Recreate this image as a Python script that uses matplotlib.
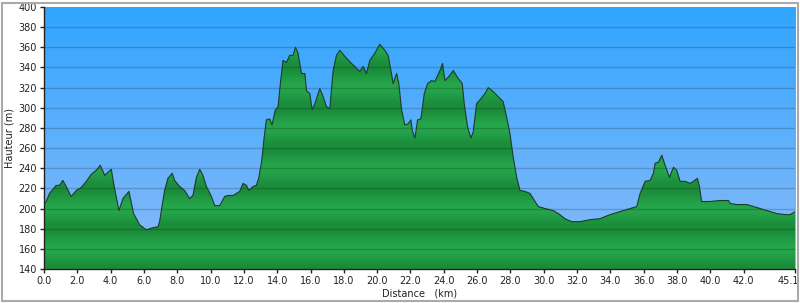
import numpy as np
import matplotlib
matplotlib.use("Agg")
from matplotlib import pyplot as plt
from matplotlib.patches import Rectangle
from matplotlib.transforms import ScaledTranslation

# elevation profile (km, m)
dist_km = [0.0, 0.13, 0.33, 0.73, 0.93, 1.13, 1.33, 1.63, 1.94, 2.24,
           2.54, 2.84, 3.14, 3.38, 3.64, 4.04, 4.18, 4.5, 4.74, 5.1,
           5.38, 5.74, 6.14, 6.54, 6.84, 6.94, 7.24, 7.44, 7.7, 7.84,
           8.14, 8.44, 8.74, 8.94, 9.15, 9.35, 9.54, 9.75, 10.05, 10.25,
           10.55, 10.85, 11.05, 11.35, 11.75, 11.95, 12.15, 12.31, 12.55, 12.75,
           12.9, 13.05, 13.12, 13.2, 13.35, 13.55, 13.69, 13.89, 14.05, 14.21,
           14.35, 14.56, 14.75, 14.95, 15.1, 15.25, 15.46, 15.66, 15.76, 15.96,
           16.1, 16.26, 16.56, 16.76, 16.96, 17.16, 17.36, 17.56, 17.76, 18.06,
           18.46, 18.66, 18.96, 19.16, 19.36, 19.56, 19.86, 20.16, 20.46, 20.66,
           20.86, 20.96, 21.17, 21.3, 21.47, 21.66, 21.86, 22.03, 22.1, 22.27,
           22.43, 22.63, 22.83, 23.03, 23.27, 23.47, 23.77, 23.93, 24.07, 24.31,
           24.57, 24.87, 25.11, 25.23, 25.43, 25.63, 25.77, 25.97, 26.23, 26.47,
           26.67, 26.97, 27.27, 27.57, 27.77, 27.97, 28.17, 28.38, 28.58, 28.88,
           29.18, 29.48, 29.68, 30.08, 30.58, 30.88, 31.28, 31.68, 32.18, 32.78,
           33.38, 33.98, 34.58, 35.18, 35.59, 35.79, 36.09, 36.39, 36.59, 36.69,
           36.89, 37.09, 37.29, 37.55, 37.79, 37.99, 38.19, 38.49, 38.79, 38.99,
           39.23, 39.35, 39.48, 39.98, 40.58, 41.1, 41.2, 41.6, 42.2, 42.8,
           43.4, 44.0, 44.5, 44.8, 45.1]
elev_m = [204, 207, 215, 223, 223, 228, 222, 212, 218, 221,
          227, 234, 238, 243, 233, 239, 225, 198, 210, 217,
          195, 184, 179, 181, 182, 187, 218, 230, 235, 228,
          222, 218, 210, 213, 231, 239, 233, 222, 212, 203,
          203, 212, 213, 213, 217, 225, 223, 218, 222, 223,
          231, 245, 255, 268, 288, 289, 283, 298, 301, 327,
          347, 345, 352, 352, 360, 354, 334, 334, 317, 314,
          298, 304, 319, 311, 301, 299, 337, 352, 357, 351,
          344, 341, 336, 341, 334, 347, 354, 363, 357, 352,
          334, 324, 334, 324, 298, 283, 284, 288, 278, 270,
          288, 289, 314, 324, 327, 326, 337, 344, 327, 331,
          337, 329, 324, 304, 281, 270, 276, 304, 309, 314,
          320, 316, 311, 306, 291, 275, 251, 231, 218, 217,
          215, 207, 202, 200, 198, 195, 190, 187, 187, 189,
          190, 194, 197, 200, 202, 215, 227, 228, 235, 245,
          246, 253, 243, 231, 241, 238, 227, 227, 225, 227,
          230, 222, 207, 207, 208, 208, 205, 204, 204, 201,
          198, 195, 194, 194, 197]

x_ticks = [0, 2, 4, 6, 8, 10, 12, 14, 16, 18, 20, 22, 24, 26, 28, 30,
           32, 34, 36, 38, 40, 42, 45.1]
x_labels = ["0.0", "2.0", "4.0", "6.0", "8.0", "10.0", "12.0", "14.0", "16.0",
            "18.0", "20.0", "22.0", "24.0", "26.0", "28.0", "30.0", "32.0",
            "34.0", "36.0", "38.0", "40.0", "42.0", "45.1"]
y_ticks = list(range(140, 401, 20))

x_max = 45.1
y_min, y_max = 140, 400

fig = plt.figure(figsize=(8, 3.03), dpi=100)
ax = fig.add_axes([0.055, 0.112, 0.939, 0.865])

# sky gradient
sky_top = np.array([0x30, 0xa5, 0xff]) / 255
sky_bot = np.array([0x8c, 0xbb, 0xf8]) / 255
t = np.linspace(0, 1, 256)[:, None]
sky = (sky_top * (1 - t) + sky_bot * t)[:, None, :]
ax.imshow(sky, extent=[0, x_max, y_min, y_max], aspect="auto", zorder=0,
          interpolation="bilinear")

# green terrain with soft bands
e = np.linspace(y_max, y_min, 520)
f = 0.5 - 0.5 * np.cos(2 * np.pi * (e - 140) / 40)
light = np.array([38, 166, 76]) / 255
dark = np.array([26, 140, 58]) / 255
green = (dark * (1 - f[:, None]) + light * f[:, None])[:, None, :]
poly = ax.fill_between(dist_km, elev_m, y_min, facecolor="none", edgecolor="none")
img = ax.imshow(green, extent=[0, x_max, y_min, y_max], aspect="auto", zorder=1,
                interpolation="bilinear")
img.set_clip_path(poly.get_paths()[0], transform=ax.transData)
ax.plot(dist_km, elev_m, color="#1f3a2a", lw=0.8, zorder=3)

for y in y_ticks[1:-1]:
    ax.axhline(y, color="black", alpha=0.18, lw=1, zorder=2)

ax.set_xlim(0, x_max)
ax.set_ylim(y_min, y_max)
ax.set_xticks(x_ticks)
ax.set_xticklabels(x_labels)
ax.set_yticks(y_ticks)
ax.tick_params(labelsize=7, colors="#222222", length=3, width=1, pad=2)
last = ax.get_xticklabels()[-1]
last.set_transform(last.get_transform() + ScaledTranslation(-5 / 72, 0, fig.dpi_scale_trans))
for s in ["top", "right"]:
    ax.spines[s].set_visible(False)
for s in ["left", "bottom"]:
    ax.spines[s].set_color("#222222")
    ax.spines[s].set_linewidth(1)

ax.set_xlabel("Distance   (km)", fontsize=7, color="#222222", labelpad=2)
ax.set_ylabel("Hauteur (m)", fontsize=7, color="#222222", labelpad=3)

# outer frame
fig.patches.append(Rectangle((0.003, 0.005), 0.994, 0.985, transform=fig.transFigure,
                             fill=False, edgecolor="#aaaaaa", lw=1.5))

fig.savefig("out.png", dpi=100)
